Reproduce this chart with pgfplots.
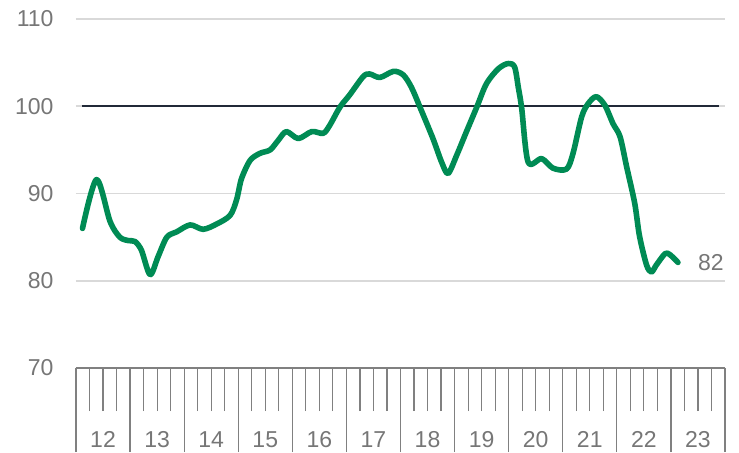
\documentclass[border=0pt]{standalone}
\usepackage{fontspec}
\setmainfont{Liberation Sans}
\usepackage{pgfplots}
\pgfplotsset{compat=1.18}

\definecolor{lineg}{RGB}{0,139,84}
\definecolor{refline}{RGB}{33,41,56}
\definecolor{gridg}{RGB}{217,217,217}
\definecolor{tickg}{RGB}{128,128,128}
\definecolor{labelg}{RGB}{118,118,118}

\begin{document}
\begin{tikzpicture}
% one px of the reference = 0.5pt
\path[use as bounding box] (-38pt,-42pt) rectangle (331.5pt,184pt);
\begin{axis}[
    at={(0,0)}, anchor=south west,
    scale only axis,
    width=324.5pt, height=174.5pt,
    xmin=2012, xmax=2024,
    ymin=70, ymax=110,
    axis x line*=bottom,
    axis y line*=left,
    x axis line style={draw=tickg, line width=0.7pt},
    y axis line style={draw=none},
    tick align=outside,
    xtick={2012,2013,...,2024},
    xticklabels={12,13,14,15,16,17,18,19,20,21,22,23,{}},
    xticklabel style={xshift=13.52pt, yshift=-24pt},
    minor xtick={2012.25,2012.5,2012.75,2013.25,2013.5,2013.75,
        2014.25,2014.5,2014.75,2015.25,2015.5,2015.75,
        2016.25,2016.5,2016.75,2017.25,2017.5,2017.75,
        2018.25,2018.5,2018.75,2019.25,2019.5,2019.75,
        2020.25,2020.5,2020.75,2021.25,2021.5,2021.75,
        2022.25,2022.5,2022.75,2023.25,2023.5,2023.75},
    xtick style={draw=tickg, line width=0.6pt,
        /pgfplots/major tick length=42pt,
        /pgfplots/minor tick length=21.5pt},
    minor x tick style={draw=tickg, line width=0.6pt},
    ytick={70,80,90,100,110},
    ytick style={draw=none},
    yticklabel style={xshift=-3.5pt},
    ymajorgrids=true,
    grid style={draw=gridg, line width=0.8pt},
    tick label style={font=\fontsize{11.5}{13}\selectfont, text=labelg},
    /pgf/number format/assume math mode=true,
    clip=false,
]
\addplot[refline, line width=1.1pt] coordinates {(2012.11,100) (2023.89,100)};

\addplot[lineg, line width=2.8pt, smooth, tension=0.5, line join=round, line cap=round]
    coordinates {
    (2012.12,86.0) (2012.38,91.6) (2012.63,86.8) (2012.81,85.0) (2012.97,84.6)
    (2013.09,84.5) (2013.21,83.5) (2013.37,80.7) (2013.52,82.8) (2013.68,85.0)
    (2013.86,85.6) (2014.11,86.4) (2014.35,85.9) (2014.60,86.5) (2014.85,87.5)
    (2014.97,89.3) (2015.06,91.7) (2015.22,93.8) (2015.40,94.6) (2015.59,95.0)
    (2015.74,96.1) (2015.89,97.1) (2016.11,96.3) (2016.36,97.1) (2016.57,96.9)
    (2016.69,97.8) (2016.88,99.9) (2017.06,101.3) (2017.31,103.4) (2017.43,103.7)
    (2017.62,103.3) (2017.87,104.0) (2018.05,103.6) (2018.20,102.2) (2018.36,99.9)
    (2018.60,96.3) (2018.76,93.6) (2018.88,92.3) (2019.04,94.4) (2019.22,97.1)
    (2019.41,99.9) (2019.59,102.6) (2019.81,104.3) (2019.99,104.9) (2020.11,104.5)
    (2020.18,102.1) (2020.24,99.8) (2020.36,93.6) (2020.61,94.0) (2020.82,92.9)
    (2021.07,92.8) (2021.19,94.6) (2021.35,98.8) (2021.47,100.3) (2021.62,101.1)
    (2021.78,100.1) (2021.93,98.0) (2022.06,96.5) (2022.18,93.1) (2022.33,88.9)
    (2022.42,85.1) (2022.55,81.8) (2022.64,81.0) (2022.73,81.8) (2022.89,83.1)
    (2022.98,83.0) (2023.13,82.1)
    };
\node[anchor=west, text=labelg, font=\fontsize{11.5}{13}\selectfont, xshift=6.5pt]
    at (axis cs:2023.13,82.1) {82};
\end{axis}
\end{tikzpicture}
\end{document}
